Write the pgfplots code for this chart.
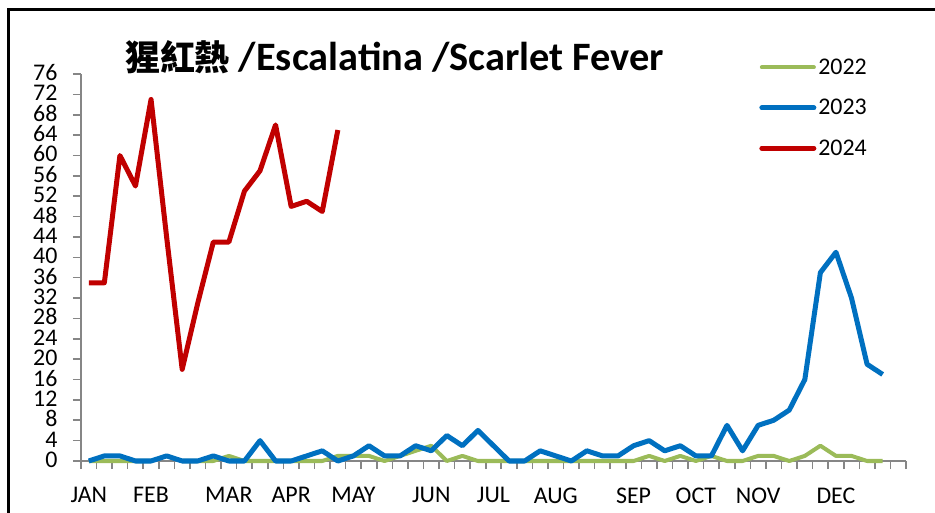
\documentclass[border=0pt]{standalone}
\usepackage{pgfplots}
\pgfplotsset{compat=1.18}
\usepackage{fontspec}
\setmainfont{Carlito}
\newfontfamily\cjk{Noto Sans CJK TC}
\definecolor{c22}{HTML}{9BBB59}
\definecolor{c23}{HTML}{0070C0}
\definecolor{c24}{HTML}{C00000}
\definecolor{axgray}{HTML}{868686}
\begin{document}
\begin{tikzpicture}
\useasboundingbox (0,0) rectangle (935bp,513bp);
\draw[black, line width=2.5bp] (8.3bp,-5bp) -- (8.3bp,503.7bp) -- (945bp,503.7bp);
\begin{axis}[
  at={(81bp,52bp)}, anchor=south west,
  scale only axis, width=825bp, height=387bp,
  xmin=0.5, xmax=53.5, ymin=0, ymax=76,
  clip=false,
  axis x line=bottom, axis y line=left,
  axis line style={-, draw=axgray, line width=2bp},
  tick align=outside,
  major tick length=8bp,
  tick style={draw=axgray, line width=1.6bp},
  xtick={0.5,1.5,...,53.5}, xticklabels={},
  extra x ticks={1,5,10,14,18,23,27,31,36,40,44,49},
  extra x tick labels={JAN,FEB,MAR,APR,MAY,JUN,JUL,AUG,SEP,OCT,NOV,DEC},
  extra x tick style={tick style={draw=none}, xticklabel style={yshift=-15bp}},
  ytick={0,4,...,76},
  yticklabel style={xshift=-12bp, text height=13bp, text depth=0bp, inner ysep=0pt},
  /pgf/number format/assume math mode=true,
  tick label style={font=\fontsize{24}{24}\selectfont},
  legend style={draw=none, fill=none, at={(0.822,1.045)}, anchor=north west,
    font=\fontsize{24}{24}\selectfont, row sep=19.5bp, inner sep=0pt},
  legend cell align=left,
  legend image code/.code={\draw[#1, line cap=round] (0bp,0bp) -- (52bp,0bp);},
]
\addplot[c22, line width=4bp, line join=round] coordinates {
(1,0)(2,0)(3,0)(4,0)(5,0)(6,1)(7,0)(8,0)(9,0)(10,1)(11,0)(12,0)(13,0)
(14,0)(15,0)(16,0)(17,1)(18,1)(19,1)(20,0)(21,1)(22,2)(23,3)(24,0)(25,1)(26,0)
(27,0)(28,0)(29,0)(30,0)(31,0)(32,0)(33,0)(34,0)(35,0)(36,0)(37,1)(38,0)(39,1)
(40,0)(41,1)(42,0)(43,0)(44,1)(45,1)(46,0)(47,1)(48,3)(49,1)(50,1)(51,0)(52,0)};
\addlegendentry{2022}
\addplot[c23, line width=5bp, line join=round] coordinates {
(1,0)(2,1)(3,1)(4,0)(5,0)(6,1)(7,0)(8,0)(9,1)(10,0)(11,0)(12,4)(13,0)
(14,0)(15,1)(16,2)(17,0)(18,1)(19,3)(20,1)(21,1)(22,3)(23,2)(24,5)(25,3)(26,6)
(27,3)(28,0)(29,0)(30,2)(31,1)(32,0)(33,2)(34,1)(35,1)(36,3)(37,4)(38,2)(39,3)
(40,1)(41,1)(42,7)(43,2)(44,7)(45,8)(46,10)(47,16)(48,37)(49,41)(50,32)(51,19)(52,17)};
\addlegendentry{2023}
\addplot[c24, line width=5bp, line join=round] coordinates {
(1,35)(2,35)(3,60)(4,54)(5,71)(6,44)(7,18)(8,31)(9,43)(10,43)(11,53)(12,57)(13,66)
(14,50)(15,51)(16,49)(17,65)};
\addlegendentry{2024}
\end{axis}
\node[anchor=base west, inner sep=0pt, font=\bfseries] at (125bp,442bp)
  {{\cjk\fontsize{35}{35}\selectfont 猩紅熱}\fontsize{40.5}{40.5}\selectfont{} /Escalatina /Scarlet Fever};
\end{tikzpicture}
\end{document}
